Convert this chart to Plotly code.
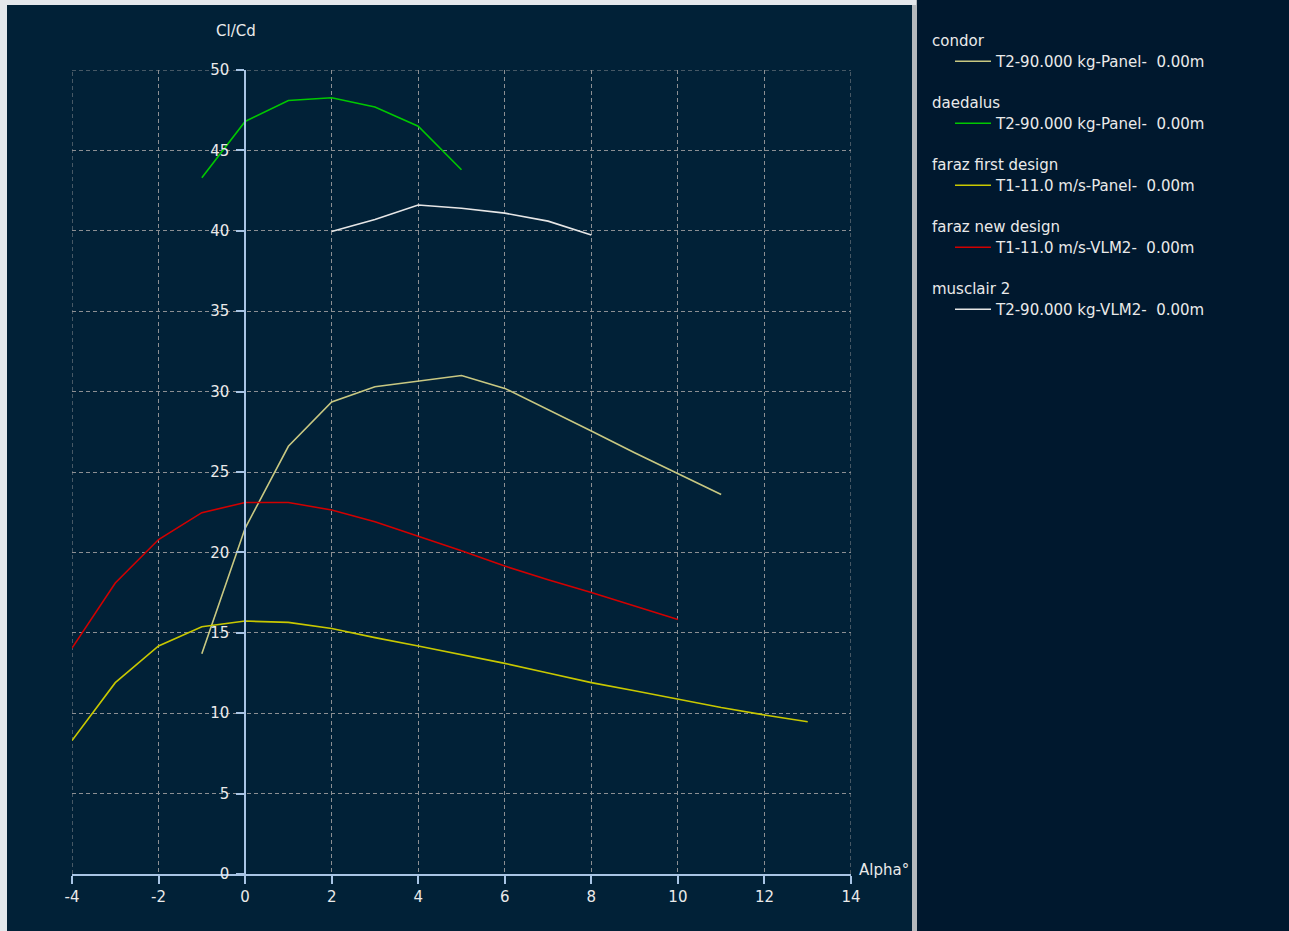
import plotly.graph_objects as go

# ---- data ----
condor_alpha = [-1, 0, 1, 2, 3, 4, 5, 6, 7, 8, 9, 10, 11]
condor_clcd = [13.7, 21.5, 26.6, 29.35, 30.3, 30.65, 31.0, 30.2, 28.9, 27.55, 26.2, 24.9, 23.6]

daedalus_alpha = [-1, 0, 1, 2, 3, 4, 5]
daedalus_clcd = [43.3, 46.8, 48.1, 48.27, 47.7, 46.5, 43.8]

faraz1_alpha = [-4, -3, -2, -1, 0, 1, 2, 3, 4, 5, 6, 7, 8, 9, 10, 11, 12, 13]
faraz1_clcd = [8.3, 11.9, 14.18, 15.38, 15.73, 15.65, 15.27, 14.7, 14.18, 13.65, 13.1, 12.5,
               11.9, 11.4, 10.88, 10.35, 9.89, 9.47]

faraz2_alpha = [-4, -3, -2, -1, 0, 1, 2, 3, 4, 5, 6, 7, 8, 9, 10]
faraz2_clcd = [14.05, 18.1, 20.8, 22.47, 23.1, 23.1, 22.64, 21.9, 21.0, 20.1, 19.15, 18.3,
               17.5, 16.65, 15.83]

musclair_alpha = [2, 3, 4, 5, 6, 7, 8]
musclair_clcd = [39.95, 40.7, 41.6, 41.4, 41.1, 40.6, 39.74]

plane_names = ["condor", "daedalus", "faraz first design", "faraz new design", "musclair 2"]
polar_names = ["T2-90.000 kg-Panel-  0.00m", "T2-90.000 kg-Panel-  0.00m",
               "T1-11.0 m/s-Panel-  0.00m", "T1-11.0 m/s-VLM2-  0.00m",
               "T2-90.000 kg-VLM2-  0.00m"]
colors = ["#c8c882", "#00c800", "#c8c800", "#d20000", "#e6e6e6"]

x_ticks = [-4, -2, 0, 2, 4, 6, 8, 10, 12, 14]
y_ticks = [0, 5, 10, 15, 20, 25, 30, 35, 40, 45, 50]

series = [(condor_alpha, condor_clcd), (daedalus_alpha, daedalus_clcd),
          (faraz1_alpha, faraz1_clcd), (faraz2_alpha, faraz2_clcd),
          (musclair_alpha, musclair_clcd)]

# ---- layout constants ----
W, H = 1289, 931
L, R, T, B = 72, W - 851, 70, H - 874
PW, PH = W - L - R, H - T - B
FONT = "DejaVu Sans"
TXT = "#eaeaea"
LEFT_BG = "#012137"
RIGHT_BG = "#00182e"
AXIS_C = "#a8c4e4"
GRID_C = "#8c8f93"
DASH = "4px,3px"


def px_x(p):
    return (p - L) / PW


def px_y(p):
    return (H - B - p) / PH


fig = go.Figure()
for i, (xa, ya) in enumerate(series):
    fig.add_trace(go.Scatter(
        x=xa, y=ya, mode="lines", name=polar_names[i],
        line=dict(color=colors[i], width=1.6),
        legendgroup="g%d" % i,
    ))

x0, x1 = x_ticks[0], x_ticks[-1]
ypos = (0 - x0) / (x1 - x0)

shapes = [
    # right panel
    dict(type="rect", xref="paper", yref="paper", x0=px_x(916), x1=px_x(W + 2),
         y0=px_y(H + 2), y1=px_y(-2), fillcolor=RIGHT_BG, line=dict(width=0), layer="below"),
    # separator
    dict(type="rect", xref="paper", yref="paper", x0=px_x(912), x1=px_x(917),
         y0=px_y(H + 2), y1=px_y(-2), fillcolor="#b4b8bc", line=dict(width=0), layer="below"),
    # top strip
    dict(type="rect", xref="paper", yref="paper", x0=px_x(-2), x1=px_x(916),
         y0=px_y(5), y1=px_y(-2), fillcolor="#e4e8ec", line=dict(width=0), layer="below"),
    # left strip
    dict(type="rect", xref="paper", yref="paper", x0=px_x(-2), x1=px_x(7),
         y0=px_y(H + 2), y1=px_y(-2), fillcolor="#e4e8ec", line=dict(width=0), layer="below"),
]
# grid lines on the plot edges (plotly skips the ones on the range ends)
for xv in (x_ticks[0], x_ticks[-1]):
    shapes.append(dict(type="line", xref="x", yref="y", x0=xv, x1=xv, y0=y_ticks[0], y1=y_ticks[-1],
                       line=dict(color=GRID_C, width=1, dash=DASH), layer="below"))
shapes.append(dict(type="line", xref="x", yref="y", x0=x_ticks[0], x1=x_ticks[-1],
                   y0=y_ticks[-1], y1=y_ticks[-1],
                   line=dict(color=GRID_C, width=1, dash=DASH), layer="below"))

annotations = [
    dict(text="Cl/Cd", xref="paper", yref="paper", x=px_x(236), y=px_y(31),
         showarrow=False, xanchor="center", yanchor="middle",
         font=dict(family=FONT, size=15, color=TXT)),
    dict(text="Alpha°", xref="paper", yref="paper", x=px_x(857), y=px_y(870),
         showarrow=False, xanchor="left", yanchor="middle",
         font=dict(family=FONT, size=15, color=TXT)),
]
for i, nm in enumerate(plane_names):
    annotations.append(dict(text=nm, xref="paper", yref="paper", x=px_x(930), y=px_y(41 + 62 * i),
                            showarrow=False, xanchor="left", yanchor="middle",
                            font=dict(family=FONT, size=15, color=TXT)))

fig.update_layout(
    width=W, height=H,
    margin=dict(l=L, r=R, t=T, b=B, autoexpand=False),
    paper_bgcolor=LEFT_BG, plot_bgcolor=LEFT_BG,
    font=dict(family=FONT, size=15, color=TXT),
    showlegend=True,
    legend=dict(
        xref="container", yref="container", x=950 / W, y=1 - 45 / H,
        xanchor="left", yanchor="top", bgcolor="rgba(0,0,0,0)",
        font=dict(family=FONT, size=15, color=TXT),
        tracegroupgap=39.5, itemwidth=36,
    ),
    xaxis=dict(
        range=[x0, x1], tickvals=x_ticks, ticktext=[str(v) for v in x_ticks],
        showgrid=True, gridcolor=GRID_C, griddash=DASH, gridwidth=1,
        showline=True, linecolor=AXIS_C, linewidth=1.5,
        ticks="outside", ticklen=8, tickcolor=AXIS_C, tickwidth=1.5,
        zeroline=False, fixedrange=True,
        tickfont=dict(family=FONT, size=15, color=TXT),
    ),
    yaxis=dict(
        range=[y_ticks[0], y_ticks[-1]], tickvals=y_ticks, ticktext=[str(v) for v in y_ticks],
        showgrid=True, gridcolor=GRID_C, griddash=DASH, gridwidth=1,
        showline=True, linecolor=AXIS_C, linewidth=1.5,
        ticks="outside", ticklen=8, tickcolor=AXIS_C, tickwidth=1.5,
        zeroline=False, anchor="free", position=ypos, fixedrange=True,
        ticklabelstandoff=4,
        tickfont=dict(family=FONT, size=15, color=TXT),
    ),
    annotations=annotations,
    shapes=shapes,
)

fig.write_html("out.html", config={"displayModeBar": False},
               post_script="document.body.style.margin='0';document.body.style.overflow='hidden';")
